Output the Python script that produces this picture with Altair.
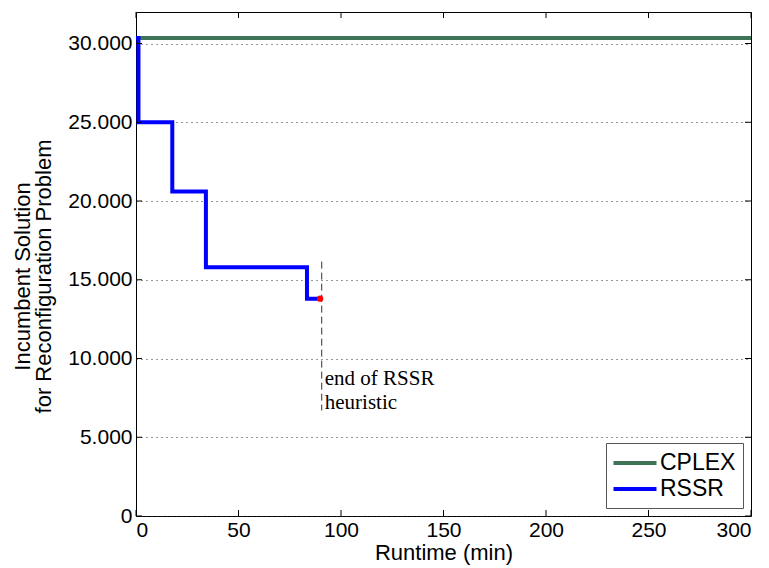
import altair as alt
import pandas as pd

# Data
rssr_x = [0, 1.2, 17.7, 34.1, 83.4, 89.8]
rssr_y = [30350, 25000, 20600, 15800, 13800, 13800]
cplex_x = [0, 300]
cplex_y = [30350, 30350]
end_x = [89.8]
end_y = [13800]
dash_x = [90.6, 90.6]
dash_y = [16150, 6700]
annot_text = ["end of RSSR", "heuristic"]
annot_y = [8300, 6780]
xticks = [0, 50, 100, 150, 200, 250, 300]
yticks = [0, 5000, 10000, 15000, 20000, 25000, 30000]

W, H = 615, 504
xs = alt.Scale(domain=[0, 300], nice=False)
ys = alt.Scale(domain=[0, 32000], nice=False)

lines = pd.DataFrame({
    "x": cplex_x + rssr_x,
    "y": cplex_y + rssr_y,
    "series": ["CPLEX"] * len(cplex_x) + ["RSSR"] * len(rssr_x),
})

label_expr = "datum.value == 0 ? '0' : replace(format(datum.value, ','), ',', '.')"

xaxis = alt.Axis(values=xticks, grid=False, tickSize=0, labelFont="Liberation Sans",
                 labelFontSize=21, labelColor="black", labelPadding=3,
                 title="Runtime (min)", titleFont="Liberation Sans", titleFontSize=22,
                 titleFontWeight="normal", titleColor="black", titlePadding=2,
                 domain=False)
yaxis = alt.Axis(values=yticks, grid=True, gridColor="#333333", gridDash=[1, 4],
                 gridWidth=1, tickSize=0, labelFont="Liberation Sans", labelFontSize=21,
                 labelColor="black", labelPadding=4, labelExpr=label_expr,
                 title=["Incumbent Solution", "for Reconfiguration Problem"],
                 titleFont="Liberation Sans", titleFontSize=22, titleFontWeight="normal",
                 titleColor="black", titlePadding=12, titleLineHeight=21, titleY=264,
                 domain=False)

base_lines = alt.Chart(lines).mark_line(strokeWidth=4, interpolate="step-after", clip=True).encode(
    x=alt.X("x:Q", scale=xs, axis=xaxis),
    y=alt.Y("y:Q", scale=ys, axis=yaxis),
    color=alt.Color("series:N", scale=alt.Scale(domain=["CPLEX", "RSSR"], range=["#3e7558", "#0000ff"]),
                    legend=alt.Legend(title=None, orient="bottom-right", symbolType="M-2,0L2,0",
                                      symbolSize=462, symbolStrokeWidth=4, symbolOffset=9,
                                      labelFontSize=23,
                                      labelFont="Liberation Sans", labelColor="black",
                                      fillColor="white", strokeColor="#555555", padding=7,
                                      offset=8, rowPadding=1, labelOffset=12,
                                      cornerRadius=0)),
)

dash = alt.Chart(pd.DataFrame({"x": dash_x, "y": dash_y})).mark_line(
    color="#333333", strokeWidth=1, strokeDash=[7, 4]).encode(
    x=alt.X("x:Q", scale=xs), y=alt.Y("y:Q", scale=ys))

dot = alt.Chart(pd.DataFrame({"x": end_x, "y": end_y})).mark_point(
    filled=True, color="#ff0000", size=40, opacity=1).encode(
    x=alt.X("x:Q", scale=xs), y=alt.Y("y:Q", scale=ys))

annot = alt.Chart(pd.DataFrame({"x": [dash_x[0]] * 2, "y": annot_y, "t": annot_text})).mark_text(
    align="left", baseline="alphabetic", font="Liberation Serif", fontSize=21, dx=3, color="black").encode(
    x=alt.X("x:Q", scale=xs), y=alt.Y("y:Q", scale=ys), text="t:N")

# inward tick marks on all four sides
xt = pd.DataFrame({"v": xticks})
yt = pd.DataFrame({"v": yticks})
tick_b = alt.Chart(xt).mark_rule(color="black", strokeWidth=1).encode(
    x=alt.X("v:Q", scale=xs), y=alt.value(H), y2=alt.value(H - 6))
tick_t = alt.Chart(xt).mark_rule(color="black", strokeWidth=1).encode(
    x=alt.X("v:Q", scale=xs), y=alt.value(0), y2=alt.value(6))
tick_l = alt.Chart(yt).mark_rule(color="black", strokeWidth=1).encode(
    y=alt.Y("v:Q", scale=ys), x=alt.value(0), x2=alt.value(6))
tick_r = alt.Chart(yt).mark_rule(color="black", strokeWidth=1).encode(
    y=alt.Y("v:Q", scale=ys), x=alt.value(W), x2=alt.value(W - 6))

chart = alt.layer(base_lines, dash, dot, annot, tick_b, tick_t, tick_l, tick_r).properties(
    width=W, height=H,
    autosize=alt.AutoSizeParams(type="none"),
    padding={"left": 128, "top": 4, "right": 10, "bottom": 52},
    background="white",
).configure_view(stroke="black", strokeWidth=1)

chart.save("out.html", embed_options={"renderer": "svg", "actions": False})
